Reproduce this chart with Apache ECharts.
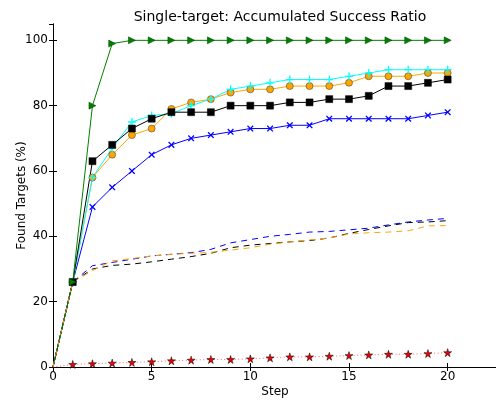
<!DOCTYPE html>
<html>
<head>
<meta charset="utf-8">
<script src="https://cdn.jsdelivr.net/npm/echarts@6/dist/echarts.min.js"></script>
<style>
  html, body { margin: 0; padding: 0; background: #ffffff; }
  #chart { width: 496px; height: 403px; }
</style>
</head>
<body>
<div id="chart"></div>
<script>
// Search steps (x axis)
const steps = [0, 1, 2, 3, 4, 5, 6, 7, 8, 9, 10, 11, 12, 13, 14, 15, 16, 17, 18, 19, 20];

// Accumulated success ratio (%) per method
const greenTri   = [0, 26, 80, 99, 100, 100, 100, 100, 100, 100, 100, 100, 100, 100, 100, 100, 100, 100, 100, 100, 100];
const blackSq    = [0, 26, 63, 68, 73, 76, 78, 78, 78, 80, 80, 80, 81, 81, 82, 82, 83, 86, 86, 87, 88];
const orangeCirc = [0, 26, 58, 65, 71, 73, 79, 81, 82, 84, 85, 85, 86, 86, 86, 87, 89, 89, 89, 90, 90];
const cyanPlus   = [0, 26, 58, 67, 75, 77, 77.5, 80, 82, 85, 86, 87, 88, 88, 88, 89, 90, 91, 91, 91, 91];
const blueX      = [0, 26, 49, 55, 60, 65, 68, 70, 71, 72, 73, 73, 74, 74, 76, 76, 76, 76, 76, 77, 78];
const blueDash   = [0, 26, 31, 32, 33, 34, 34.5, 35, 36, 38, 39, 40, 40.6, 41.3, 41.5, 42, 42.5, 43.5, 44.4, 45, 45.5];
const blackDash  = [0, 26, 30, 31.1, 31.5, 32.2, 33, 33.8, 34.8, 36.5, 37.3, 37.8, 38.3, 38.7, 39.5, 40.9, 42.1, 43.2, 44.2, 44.4, 44.8];
const orangeDash = [0, 26, 29.5, 32.5, 33.2, 34, 34.5, 34.8, 35.1, 35.8, 36.5, 37.6, 38.3, 38.9, 39.5, 40.7, 41.1, 41.3, 41.7, 43.2, 43.3];
const redStar    = [0, 0.8, 1, 1.2, 1.4, 1.6, 1.9, 2.1, 2.3, 2.3, 2.5, 2.8, 3.1, 3.1, 3.3, 3.5, 3.7, 3.9, 3.9, 4.1, 4.4];

// Tick values shown on the axes
const xTicks = [0, 5, 10, 15, 20];
const yTicks = [0, 20, 40, 60, 80, 100];

const FONT = 'DejaVu Sans';

// [step, value] pairs; the origin point carries no marker (it sits on the axis corner)
const pairs = vals => steps.map((s, i) => (i === 0 ? { value: [s, vals[i]], symbol: 'none' } : [s, vals[i]]));

const plusPath = 'path://M42,0H58V42H100V58H58V100H42V58H0V42H42Z';
const starPath = 'path://M50,0L61,35L98,35L68,57L79,91L50,70L21,91L32,57L2,35L39,35Z';

function lineSeries(vals, color, opts) {
  return Object.assign({
    type: 'line',
    data: pairs(vals),
    xAxisIndex: 0,
    yAxisIndex: 0,
    animation: false,
    silent: true,
    symbol: 'none',
    lineStyle: { color: color, width: 1 },
    itemStyle: { color: color }
  }, opts || {});
}

const chart = echarts.init(document.getElementById('chart'), null, { renderer: 'canvas' });

const axisCommon = {
  type: 'value',
  splitLine: { show: false },
  axisLine: { show: true, lineStyle: { color: '#000', width: 1 } },
  axisTick: { show: true, inside: true, length: 4, lineStyle: { color: '#000', width: 1 } }
};

chart.setOption({
  backgroundColor: '#ffffff',
  animation: false,
  title: {
    text: 'Single-target: Accumulated Success Ratio',
    left: 275,
    top: 5,
    textAlign: 'center',
    textStyle: { fontFamily: FONT, fontSize: 14, fontWeight: 'normal', color: '#000' }
  },
  grid: { left: 53, right: -1, top: 24, bottom: 36, outerBoundsMode: 'none', containLabel: false },
  xAxis: [
    Object.assign({}, axisCommon, {
      position: 'bottom', min: 0, max: 22.5, interval: 5,
      name: 'Step', nameLocation: 'middle', nameGap: 19, nameMoveOverlap: false,
      nameTextStyle: { fontFamily: FONT, fontSize: 12, color: '#000', verticalAlign: 'top' },
      axisLabel: {
        fontFamily: FONT, fontSize: 12, color: '#000', margin: 4,
        showMaxLabel: false,
        formatter: v => (xTicks.indexOf(v) >= 0 ? String(v) : '')
      }
    }),
    Object.assign({}, axisCommon, {
      position: 'top', min: 0, max: 22.5, interval: 5,
      axisLabel: { show: false }
    })
  ],
  yAxis: [
    Object.assign({}, axisCommon, {
      position: 'left', min: 0, max: 105, interval: 20,
      name: 'Found Targets (%)', nameLocation: 'middle', nameGap: 31, nameRotate: 90,
      nameMoveOverlap: false,
      nameTextStyle: { fontFamily: FONT, fontSize: 12, color: '#000', verticalAlign: 'middle' },
      axisLabel: {
        fontFamily: FONT, fontSize: 12, color: '#000', margin: 5,
        showMaxLabel: false,
        formatter: v => (yTicks.indexOf(v) >= 0 ? String(v) : '')
      }
    }),
    Object.assign({}, axisCommon, {
      position: 'right', min: 0, max: 105, interval: 20,
      axisLabel: { show: false }
    })
  ],
  series: [
    lineSeries(blueX, '#0000ff', {
      symbol: plusPath, symbolSize: 8, symbolRotate: 45,
      itemStyle: { color: '#0000ff' }
    }),
    lineSeries(orangeCirc, '#ffa500', {
      symbol: 'circle', symbolSize: 7,
      itemStyle: { color: '#ffa500', borderColor: '#333', borderWidth: 0.5 }
    }),
    lineSeries(cyanPlus, '#00ffff', {
      symbol: plusPath, symbolSize: 8,
      itemStyle: { color: '#00ffff' }
    }),
    lineSeries(blackSq, '#000000', {
      symbol: 'rect', symbolSize: 7,
      itemStyle: { color: '#000000', borderColor: '#000', borderWidth: 0.5 }
    }),
    lineSeries(greenTri, '#008000', {
      symbol: 'triangle', symbolSize: 7, symbolRotate: -90,
      itemStyle: { color: '#008000', borderColor: '#004000', borderWidth: 0.5 }
    }),
    lineSeries(blueDash, '#0000ff', {
      lineStyle: { color: '#0000ff', width: 1, type: [6, 5] }
    }),
    lineSeries(blackDash, '#000000', {
      lineStyle: { color: '#000000', width: 1, type: [6, 5] }
    }),
    lineSeries(orangeDash, '#ffa500', {
      lineStyle: { color: '#ffa500', width: 1, type: [6, 5] }
    }),
    lineSeries(redStar, '#ff0000', {
      symbol: starPath, symbolSize: 8,
      lineStyle: { color: '#ff6666', width: 1, type: [1, 2.5] },
      itemStyle: { color: '#ee0000', borderColor: '#000', borderWidth: 0.5 }
    })
  ]
});
</script>
</body>
</html>
